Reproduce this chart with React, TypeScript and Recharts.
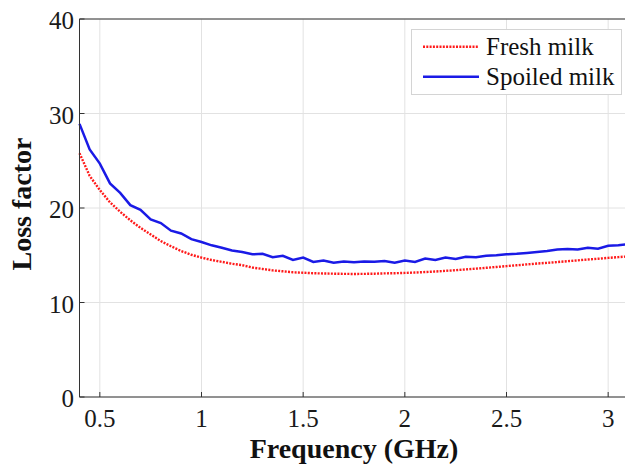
import React from 'react';
import { LineChart, Line, XAxis, YAxis, CartesianGrid, Legend } from 'recharts';

const frequency = [
  0.4, 0.45, 0.5, 0.55, 0.6, 0.65, 0.7, 0.75, 0.8, 0.85, 0.9, 0.95, 1.0, 1.05, 1.1, 1.15, 1.2, 1.25, 1.3,
  1.35, 1.4, 1.45, 1.5, 1.55, 1.6, 1.65, 1.7, 1.75, 1.8, 1.85, 1.9, 1.95, 2.0, 2.05, 2.1, 2.15, 2.2, 2.25,
  2.3, 2.35, 2.4, 2.45, 2.5, 2.55, 2.6, 2.65, 2.7, 2.75, 2.8, 2.85, 2.9, 2.95, 3.0, 3.05, 3.1,
];

const freshMilk = [
  25.8, 23.4, 21.9, 20.6, 19.6, 18.7, 17.9, 17.2, 16.5, 15.95, 15.45, 15.05, 14.75, 14.5, 14.3, 14.1, 13.95,
  13.7, 13.55, 13.4, 13.3, 13.2, 13.15, 13.1, 13.07, 13.05, 13.03, 13.02, 13.03, 13.05, 13.08, 13.1, 13.13,
  13.17, 13.22, 13.28, 13.35, 13.42, 13.5, 13.58, 13.67, 13.76, 13.85, 13.94, 14.03, 14.12, 14.2, 14.28,
  14.37, 14.46, 14.55, 14.63, 14.72, 14.8, 14.88,
];

const spoiledMilk = [
  28.9, 26.2, 24.7, 22.6, 21.6, 20.3, 19.8, 18.8, 18.4, 17.6, 17.3, 16.7, 16.4, 16.05, 15.8, 15.5, 15.35,
  15.1, 15.15, 14.8, 14.95, 14.5, 14.75, 14.3, 14.45, 14.2, 14.35, 14.25, 14.35, 14.3, 14.4, 14.2, 14.45,
  14.3, 14.65, 14.5, 14.75, 14.6, 14.85, 14.8, 14.95, 15.0, 15.1, 15.15, 15.25, 15.35, 15.45, 15.6, 15.65,
  15.6, 15.8, 15.7, 16.0, 16.05, 16.2,
];

const xTicks = [0.5, 1, 1.5, 2, 2.5, 3];
const yTicks = [0, 10, 20, 30, 40];
const seriesNames = ['Fresh milk', 'Spoiled milk'];

const data = frequency.map((f, i) => ({ f, fresh: freshMilk[i], spoiled: spoiledMilk[i] }));

const FONT = '"Liberation Serif", "Times New Roman", serif';
const AXIS = '#333333';
const RED = '#ff1a1a';
const BLUE = '#1a1ae6';

const renderLegend = (props: any) => {
  const payload = props.payload || [];
  return (
    <svg width={211} height={66} style={{ display: 'block' }}>
      <rect x={0.5} y={0.5} width={210} height={65} fill="#ffffff" stroke="#d4d4d4" strokeWidth={1} />
      {payload.map((p: any, i: number) => {
        const y = 17.7 + i * 30;
        const isFresh = i === 0;
        return (
          <g key={i}>
            <line
              x1={12}
              x2={68}
              y1={y}
              y2={y}
              stroke={p.color}
              strokeWidth={2.5}
              strokeDasharray={isFresh ? '2 1.3' : undefined}
            />
            <text x={75} y={y + 8.5} fontFamily={FONT} fontSize={25} fill="#111">
              {p.value}
            </text>
          </g>
        );
      })}
    </svg>
  );
};

export default function App() {
  return (
    <div style={{ position: 'absolute', left: 0, top: 0, width: 625, height: 465, overflow: 'hidden', background: '#fff' }}>
      <LineChart width={640} height={465} data={data} margin={{ top: 18, right: 10, bottom: 0, left: 0 }}>
        <CartesianGrid stroke="#e2e2e2" strokeWidth={1} />
        <XAxis
          dataKey="f"
          type="number"
          domain={[0.4, 3.1]}
          ticks={xTicks}
          height={68}
          tickSize={-5}
          tickMargin={17}
          stroke={AXIS}
          tick={{ fontFamily: FONT, fontSize: 25, fill: '#1a1a1a' }}
          label={{
            value: 'Frequency (GHz)',
            position: 'insideBottom',
            offset: 7,
            style: { fontFamily: FONT, fontSize: 28, fontWeight: 'bold', fill: '#111' },
          }}
        />
        <XAxis
          xAxisId="top"
          orientation="top"
          dataKey="f"
          type="number"
          domain={[0.4, 3.1]}
          ticks={xTicks}
          height={1}
          tickSize={-5}
          tick={false}
          stroke={AXIS}
        />
        <YAxis
          type="number"
          domain={[0, 40]}
          ticks={yTicks}
          width={79.5}
          tickSize={-5}
          tickMargin={10.5}
          stroke={AXIS}
          tick={{ fontFamily: FONT, fontSize: 25, fill: '#1a1a1a', dy: 1.5 }}
          label={{
            value: 'Loss factor',
            angle: -90,
            position: 'insideLeft',
            offset: 21,
            dy: -4,
            style: { fontFamily: FONT, fontSize: 28, fontWeight: 'bold', fill: '#111', textAnchor: 'middle' },
          }}
        />
        <YAxis
          yAxisId="right"
          orientation="right"
          type="number"
          domain={[0, 40]}
          ticks={yTicks}
          width={1.5}
          tickSize={-5}
          tick={false}
          stroke={AXIS}
        />
        <Legend
          verticalAlign="middle"
          align="center"
          layout="horizontal"
          content={renderLegend}
          wrapperStyle={{ left: 411, top: 29, width: 211, height: 66 }}
        />
        <Line
          type="linear"
          dataKey="fresh"
          name={seriesNames[0]}
          stroke={RED}
          strokeWidth={2.4}
          strokeDasharray="2 1.3"
          dot={false}
          isAnimationActive={false}
        />
        <Line
          type="linear"
          dataKey="spoiled"
          name={seriesNames[1]}
          stroke={BLUE}
          strokeWidth={2.5}
          dot={false}
          isAnimationActive={false}
        />
      </LineChart>
    </div>
  );
}
